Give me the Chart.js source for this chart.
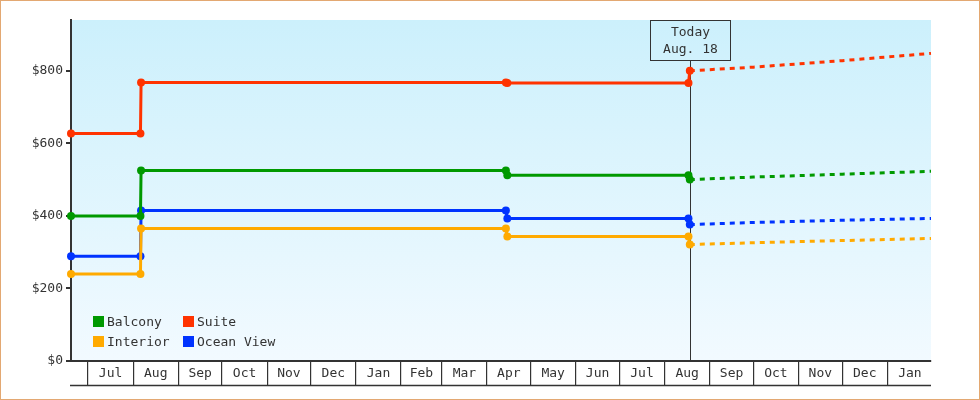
<!DOCTYPE html>
<html>
<head>
<meta charset="utf-8">
<script src="https://cdn.jsdelivr.net/npm/chart.js@4.4.1/dist/chart.umd.min.js"></script>
<style>
  html, body { margin: 0; padding: 0; background: #fff; }
  #wrap { position: relative; width: 978px; height: 398px; border: 1px solid #e3a872; }
  canvas { display: block; }
  #legend { position: absolute; left: 92px; top: 313px; font: 13px "DejaVu Sans Mono", monospace; color: #333; }
  .item { position: absolute; white-space: nowrap; line-height: 15px; height: 15px; }
  .sw { display: inline-block; width: 11px; height: 11px; vertical-align: top; margin-top: 2px; margin-right: 3px; }
</style>
</head>
<body>
<div id="wrap">
  <canvas id="c" width="978" height="398"></canvas>
  <div id="legend"></div>
</div>
<script>
// ---------- data ----------
const seriesNames  = ['Balcony', 'Suite', 'Interior', 'Ocean View'];
const seriesColors = ['#009900', '#ff3300', '#ffaa00', '#0033ff'];

// dates of the observed price points (solid lines)
const priceDates = ['2022-06-19T07:00', '2022-08-06T00:00', '2022-08-06T10:00',
                    '2023-04-14T00:00', '2023-04-15T00:00', '2023-08-17T10:00', '2023-08-18T08:00'];
const balconyPrices   = [400, 400, 525, 525, 512, 512, 500];
const suitePrices     = [627, 627, 768, 768, 766, 766, 800];
const interiorPrices  = [240, 240, 365, 365, 343, 343, 321];
const oceanViewPrices = [289, 289, 415, 415, 393, 393, 376];

// forecast (dashed lines)
const forecastDates = ['2023-08-18T08:00', '2023-10-01T00:00', '2023-12-01T00:00', '2024-01-31T00:00'];
const balconyForecast   = [500, 507, 515, 523];
const suiteForecast     = [800, 810, 828, 848];
const interiorForecast  = [321, 326, 332, 338];
const oceanViewForecast = [376, 382, 388, 393];

// axes
const xMinDate = '2022-06-19T07:00';
const xMaxDate = '2024-01-31T00:00';
const firstMonth = [2022, 6]; // July 2022 (0-based month)
const monthLabels = ['Jul','Aug','Sep','Oct','Nov','Dec','Jan','Feb','Mar','Apr','May','Jun',
                     'Jul','Aug','Sep','Oct','Nov','Dec','Jan'];
const yTicks = [0, 200, 400, 600, 800];
const yMax = 940;
const todayDate = '2023-08-18T08:00';
const todayText = ['Today', 'Aug. 18'];

// ---------- helpers ----------
const EPOCH = Date.parse('2022-07-01T00:00:00Z');
function toDay(s) { return (Date.parse(s + 'Z') - EPOCH) / 864e5; }
function msDay(ms) { return (ms - EPOCH) / 864e5; }

const FONT = '"DejaVu Sans Mono", monospace';
const INK = '#333';

function pts(dates, vals) { return dates.map((d, i) => ({ x: toDay(d), y: vals[i] })); }

const solid = [balconyPrices, suitePrices, interiorPrices, oceanViewPrices];
const fcast = [balconyForecast, suiteForecast, interiorForecast, oceanViewForecast];

const datasets = [];
seriesNames.forEach((n, i) => {
  datasets.push({
    label: n, data: pts(priceDates, solid[i]),
    borderColor: seriesColors[i], backgroundColor: seriesColors[i],
    borderWidth: 3, pointRadius: 4, pointBorderWidth: 0, pointHoverRadius: 4,
    tension: 0, fill: false, clip: 10
  });
});
seriesNames.forEach((n, i) => {
  datasets.push({
    label: n + ' forecast', data: pts(forecastDates, fcast[i]),
    borderColor: seriesColors[i], backgroundColor: seriesColors[i],
    borderWidth: 3, borderDash: [5, 5], pointRadius: 0,
    tension: 0, fill: false, clip: 10
  });
});

// month ticks: boundaries (grid lines) + midpoints (labels)
function buildMonthTicks() {
  const t = [];
  for (let i = 0; i < monthLabels.length; i++) {
    const s = Date.UTC(firstMonth[0], firstMonth[1] + i, 1);
    const e = Date.UTC(firstMonth[0], firstMonth[1] + i + 1, 1);
    t.push({ value: msDay(s), b: true, lbl: '' });
    t.push({ value: (msDay(s) + msDay(e)) / 2, b: false, lbl: monthLabels[i] });
  }
  return t;
}

const bgPlugin = {
  id: 'bg',
  beforeDraw(chart) {
    const a = chart.chartArea, ctx = chart.ctx;
    const g = ctx.createLinearGradient(0, a.top, 0, a.bottom);
    g.addColorStop(0, '#ccf0fc');
    g.addColorStop(1, '#f2faff');
    ctx.save(); ctx.fillStyle = g;
    ctx.fillRect(a.left, a.top, a.right - a.left, a.bottom - a.top);
    ctx.restore();
  }
};

const todayPlugin = {
  id: 'today',
  beforeDatasetsDraw(chart) {
    const a = chart.chartArea, ctx = chart.ctx;
    const x = Math.round(chart.scales.x.getPixelForValue(toDay(todayDate))) + 0.5;
    const bw = 80, bh = 40, top = a.top + 0.5;
    ctx.save();
    ctx.strokeStyle = INK; ctx.lineWidth = 1;
    ctx.beginPath(); ctx.moveTo(x, top + bh); ctx.lineTo(x, a.bottom); ctx.stroke();
    ctx.strokeRect(x - bw / 2, top, bw, bh);
    ctx.fillStyle = INK; ctx.font = '13px ' + FONT;
    ctx.textAlign = 'center'; ctx.textBaseline = 'middle';
    ctx.fillText(todayText[0], x, top + 12);
    ctx.fillText(todayText[1], x, top + 29);
    ctx.restore();
  },
  afterDraw(chart) {
    const a = chart.chartArea, ctx = chart.ctx;
    ctx.save();
    ctx.strokeStyle = INK; ctx.lineWidth = 1.5;
    const y = a.bottom + 24.5;
    ctx.beginPath(); ctx.moveTo(a.left - 1, y); ctx.lineTo(a.right, y); ctx.stroke();
    ctx.restore();
  }
};

new Chart(document.getElementById('c'), {
  type: 'line',
  data: { datasets },
  plugins: [bgPlugin, todayPlugin],
  options: {
    responsive: false, animation: false, events: [],
    layout: { padding: { top: 19, right: 48, bottom: 0, left: 0 } },
    plugins: { legend: { display: false }, tooltip: { enabled: false } },
    scales: {
      x: {
        type: 'linear', min: toDay(xMinDate), max: toDay(xMaxDate),
        afterBuildTicks(s) { s.ticks = buildMonthTicks(); },
        afterFit(s) { s.height = 38; },
        border: { display: true, color: INK, width: 2 },
        grid: {
          drawOnChartArea: false, drawTicks: true, tickLength: 24, lineWidth: 1.2,
          color: c => (c.tick && c.tick.b) ? INK : 'rgba(0,0,0,0)'
        },
        ticks: {
          autoSkip: false, maxRotation: 0, minRotation: 0, padding: -18,
          color: INK, font: { family: FONT, size: 13, lineHeight: 1 },
          callback: (v, i, t) => t[i].lbl
        }
      },
      y: {
        type: 'linear', min: 0, max: yMax,
        afterBuildTicks(s) { s.ticks = yTicks.map(v => ({ value: v })); },
        afterFit(s) { s.width = 70; },
        border: { display: true, color: INK, width: 2 },
        grid: { drawOnChartArea: false, drawTicks: true, tickLength: 5, lineWidth: 2, color: INK },
        ticks: {
          padding: 3, color: INK, font: { family: FONT, size: 13 },
          callback: v => '$' + v
        }
      }
    }
  }
});

// HTML legend (2 columns)
const lg = document.getElementById('legend');
const cols = [0, 90];
seriesNames.forEach((n, i) => {
  const d = document.createElement('div');
  d.className = 'item';
  d.style.left = cols[i % 2] + 'px';
  d.style.top = (Math.floor(i / 2) * 20) + 'px';
  d.innerHTML = '<span class="sw" style="background:' + seriesColors[i] + '"></span>' + n;
  lg.appendChild(d);
});
</script>
</body>
</html>
